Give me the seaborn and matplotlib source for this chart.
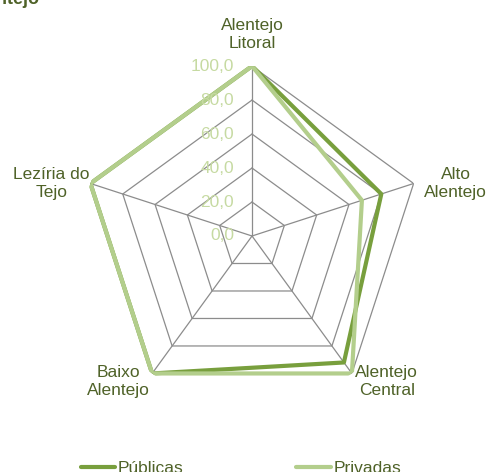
# =====================================
# Radar chart - Públicas vs Privadas
# =====================================

import numpy as np
import pandas as pd
import matplotlib
matplotlib.use("Agg")
import matplotlib.pyplot as plt
import seaborn as sns

sns.set_style("white")
plt.rcParams['font.family'] = ['Liberation Sans', 'DejaVu Sans']

# =====================================
# 1. Data
# =====================================
regions = ["Alentejo\nLitoral", "Alto\nAlentejo", "Alentejo\nCentral",
           "Baixo\nAlentejo", "Lezíria do\nTejo"]
publicas = [100.0, 80.0, 92.0, 100.0, 100.0]
privadas = [100.0, 68.0, 100.0, 100.0, 100.0]
ring_levels = [0, 20, 40, 60, 80, 100]
ring_labels = ["0,0", "20,0", "40,0", "60,0", "80,0", "100,0"]

# label offsets (pixels) from each outer vertex
label_offsets = [(0, 32), (42, 0), (35, -8), (-34, -8), (-39, 0)]

colors = {"Públicas": "#789F3D", "Privadas": "#B3CE8C"}
grid_color = "#8C8C8C"
text_color = "#4F6228"
tick_color = "#C6DAA2"

n = len(regions)
theta = np.linspace(0, 2 * np.pi, n, endpoint=False)
theta_closed = np.append(theta, 2 * np.pi)

rows = []
for name, vals in [("Públicas", publicas), ("Privadas", privadas)]:
    for t, v in zip(theta_closed, vals + vals[:1]):
        rows.append({"theta": t, "value": v, "serie": name})
df = pd.DataFrame(rows)

# =====================================
# 2. Figure
# =====================================
fig = plt.figure(figsize=(4.87, 4.72), dpi=100)
ax = fig.add_axes([0.5175 - 0.349, 0.5 - 0.36, 0.698, 0.72], projection="polar")
ax.set_theta_zero_location("N")
ax.set_theta_direction(-1)
ax.set_ylim(0, 100)
ax.grid(False)
ax.spines["polar"].set_visible(False)
ax.set_xticks([])
ax.set_yticks([])

# polygon grid
for lvl in ring_levels[1:]:
    ax.plot(theta_closed, [lvl] * (n + 1), color=grid_color, lw=0.9, zorder=1)
for t in theta:
    ax.plot([t, t], [0, 100], color=grid_color, lw=0.9, zorder=1)

sns.lineplot(data=df, x="theta", y="value", hue="serie", sort=False,
             palette=colors, linewidth=3, ax=ax, zorder=3)
ax.set_xlabel("")
ax.set_ylabel("")

# ring values
for lvl, lab in zip(ring_levels, ring_labels):
    ax.annotate(lab, xy=(0, lvl), xytext=(-18, 0), textcoords="offset pixels",
                ha="right", va="center", fontsize=12.5, color=tick_color, zorder=4)

# category labels
for t, lab, off in zip(theta, regions, label_offsets):
    ax.annotate(lab, xy=(t, 100), xytext=off, textcoords="offset pixels",
                ha="center", va="center", fontsize=12.5, color=text_color,
                linespacing=1.25, annotation_clip=False)

# cut title at the top
fig.text(40 / 487, 1.0, "Alentejo", ha="right", va="center",
         fontsize=13, fontweight="bold", color=text_color)

sns.move_legend(ax, loc="center", bbox_to_anchor=(0.495, 0.008),
                bbox_transform=fig.transFigure, ncol=2, frameon=False,
                title=None, fontsize=12.5, handlelength=2.0,
                columnspacing=6.5, handletextpad=0.15)
for txt in ax.get_legend().get_texts():
    txt.set_color(text_color)

plt.savefig("out.png", dpi=100)
